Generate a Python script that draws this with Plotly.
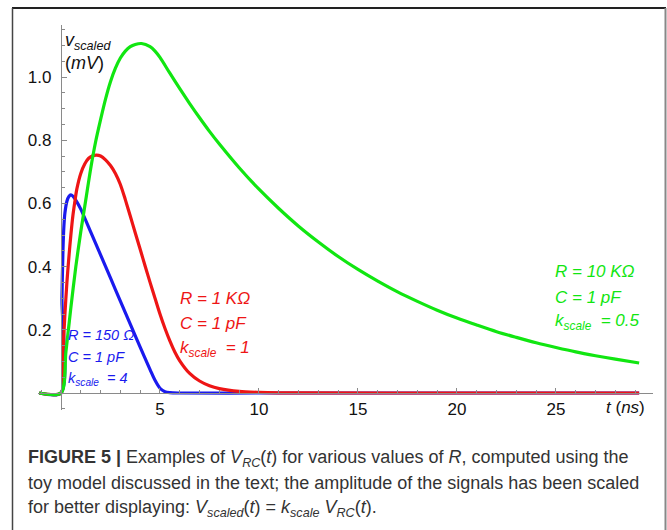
import plotly.graph_objects as go

# ---- data (t in ns, v in mV) ----
t_blue = [-1.1, 0.0, 0.05, 0.1, 0.15, 0.2, 0.3, 0.4, 0.5, 0.6, 0.8, 1.0, 1.5, 2.0, 2.5, 3.0, 3.5, 4.0, 4.5, 4.75, 5.0, 5.25, 5.5, 6.0, 10.0, 20.0, 29.2]
v_blue = [0.0, 0.0, 0.30, 0.45, 0.53, 0.57, 0.607, 0.622, 0.627, 0.623, 0.605, 0.582, 0.51, 0.437, 0.364, 0.291, 0.218, 0.145, 0.074, 0.04, 0.015, 0.004, 0.001, 0.0, 0.0, 0.0, 0.0]

t_red = [-1.1, 0.0, 0.1, 0.2, 0.3, 0.4, 0.5, 0.6, 0.7, 0.8, 1.0, 1.2, 1.4, 1.6, 1.8, 2.0, 2.25, 2.5, 2.75, 3.0, 3.25, 3.5, 3.75, 4.0, 4.25, 4.5, 4.75, 5.0, 5.25, 5.5, 5.75, 6.0, 6.5, 7.0, 7.5, 8.0, 9.0, 10.0, 11.0, 12.0, 20.0, 29.2]
v_red = [0.0, 0.0, 0.13, 0.25, 0.35, 0.43, 0.50, 0.56, 0.605, 0.645, 0.695, 0.725, 0.743, 0.751, 0.753, 0.75, 0.738, 0.72, 0.695, 0.66, 0.612, 0.56, 0.507, 0.455, 0.402, 0.35, 0.30, 0.25, 0.205, 0.165, 0.13, 0.102, 0.062, 0.038, 0.023, 0.014, 0.005, 0.002, 0.0007, 0.0003, 0.0, 0.0]

t_green = [-1.1, 0.0, 0.25, 0.5, 0.75, 1.0, 1.25, 1.5, 1.75, 2.0, 2.25, 2.5, 2.75, 3.0, 3.25, 3.5, 3.75, 4.07, 4.5, 4.75, 5.0, 5.5, 6.0, 6.5, 7.0, 7.5, 8.0, 9.0, 10.0, 11.0, 12.0, 13.0, 14.0, 15.0, 16.0, 17.0, 18.0, 19.0, 20.0, 21.0, 22.0, 23.0, 24.0, 25.0, 26.0, 27.0, 28.0, 29.2]
v_green = [0.0, 0.0, 0.13, 0.27, 0.40, 0.51, 0.61, 0.71, 0.795, 0.865, 0.93, 0.985, 1.028, 1.06, 1.082, 1.096, 1.103, 1.106, 1.096, 1.082, 1.062, 1.012, 0.963, 0.916, 0.871, 0.828, 0.788, 0.713, 0.645, 0.584, 0.528, 0.478, 0.432, 0.391, 0.354, 0.32, 0.29, 0.262, 0.237, 0.215, 0.194, 0.176, 0.159, 0.144, 0.13, 0.118, 0.107, 0.095]

x_tick_vals = [5, 10, 15, 20, 25]
y_tick_vals = [0.2, 0.4, 0.6, 0.8, 1.0]
y_tick_text = ["0.2", "0.4", "0.6", "0.8", "1.0"]

BLUE = "#1a1aee"
RED = "#ee1515"
GREEN = "#11e611"
AXC = "#8a8a8a"

W, H = 667, 530
FONT = "Liberation Sans, Arial, sans-serif"

fig = go.Figure()
for t, v, c in [(t_blue, v_blue, BLUE), (t_red, v_red, RED), (t_green, v_green, GREEN)]:
    fig.add_trace(go.Scatter(x=t, y=v, mode="lines",
                             line=dict(color=c, width=3.2, shape="spline", smoothing=0.8),
                             hoverinfo="skip", showlegend=False, cliponaxis=False))

tickfont = dict(family=FONT, size=17, color="#111")

fig.update_layout(
    width=W, height=H,
    margin=dict(l=0, r=0, t=0, b=0),
    paper_bgcolor="white", plot_bgcolor="white",
    showlegend=False,
    xaxis=dict(domain=[38 / W, 653 / W], range=[-1.16, 29.9],
               anchor="free", position=(H - 393) / H,
               showgrid=False, zeroline=False,
               showline=True, linecolor=AXC, linewidth=1.2,
               tickmode="array", tickvals=x_tick_vals,
               ticks="inside", ticklen=5, tickcolor=AXC, tickwidth=1,
               minor=dict(tickmode="linear", tick0=0, dtick=1, ticks="inside", ticklen=3, tickcolor=AXC),
               tickfont=tickfont),
    yaxis=dict(domain=[120 / H, 505 / H], range=[-0.0538, 1.1646],
               anchor="free", position=61 / W,
               showgrid=False, zeroline=False,
               showline=True, linecolor=AXC, linewidth=1.2,
               tickmode="array", tickvals=y_tick_vals, ticktext=y_tick_text,
               ticks="inside", ticklen=5, tickcolor=AXC, tickwidth=1,
               ticklabelstandoff=6,
               minor=dict(tickmode="linear", tick0=0, dtick=0.05, ticks="inside", ticklen=3, tickcolor=AXC),
               tickfont=tickfont),
)

# outer frame
fig.add_shape(type="line", xref="paper", yref="paper", x0=12 / W, x1=666 / W, y0=1 - 8 / H, y1=1 - 8 / H,
              line=dict(color="#222", width=2))
fig.add_shape(type="line", xref="paper", yref="paper", x0=12.5 / W, x1=12.5 / W, y0=0, y1=1 - 8 / H,
              line=dict(color="#444", width=1.5))
fig.add_shape(type="line", xref="paper", yref="paper", x0=665.5 / W, x1=665.5 / W, y0=0, y1=1 - 8 / H,
              line=dict(color="#888", width=2))


def ann(x, y, text, size, color, italic=False):
    fig.add_annotation(xref="paper", yref="paper", x=x / W, y=1 - y / H, text=text,
                       showarrow=False, xanchor="left", yanchor="middle",
                       font=dict(family=FONT, size=size, color=color,
                                 style="italic" if italic else "normal"))


# axis labels
ann(63, 42, "v<sub>scaled</sub>", 18, "#111", italic=True)
ann(63, 63, "(<i>mV</i>)", 18, "#111")
ann(604, 407, "<i>t</i> (<i>ns</i>)", 17, "#111")

# curve labels
ann(66, 335, "R = 150 Ω", 14.5, BLUE, italic=True)
ann(66, 357, "C = 1 pF", 14.5, BLUE, italic=True)
ann(66, 379, "k<sub>scale</sub>  = 4", 14.5, BLUE, italic=True)

ann(178, 298, "R = 1 KΩ", 17, RED, italic=True)
ann(178, 323, "C = 1 pF", 17, RED, italic=True)
ann(178, 349, "k<sub>scale</sub>  = 1", 17, RED, italic=True)

ann(553, 271, "R = 10 KΩ", 17, GREEN, italic=True)
ann(553, 297, "C = 1 pF", 17, GREEN, italic=True)
ann(553, 322, "k<sub>scale</sub>  = 0.5", 17, GREEN, italic=True)

# caption
cap = "#333"
ann(26, 458, "<b>FIGURE 5 |</b> Examples of <i>V</i><sub><i>RC</i></sub>(<i>t</i>) for various values of <i>R</i>, computed using the", 18, cap)
ann(26, 483, "toy model discussed in the text; the amplitude of the signals has been scaled", 18, cap)
ann(26, 508, "for better displaying: <i>V</i><sub><i>scaled</i></sub>(<i>t</i>) = <i>k</i><sub><i>scale</i></sub> <i>V</i><sub><i>RC</i></sub>(<i>t</i>).", 18, cap)

fig.write_html("out.html")
